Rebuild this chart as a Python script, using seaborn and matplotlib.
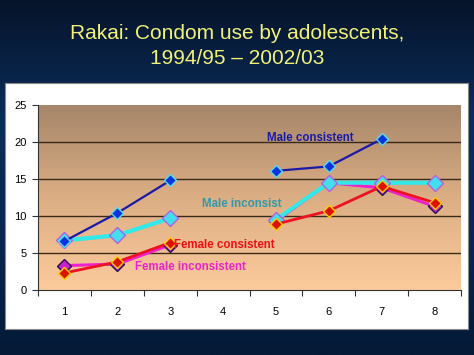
import numpy as np
import pandas as pd
import matplotlib
matplotlib.use("Agg")
import matplotlib.pyplot as plt
from matplotlib.colors import LinearSegmentedColormap
import seaborn as sns

# data (survey rounds 1..8, no data for round 4)
rounds = [1, 2, 3, 4, 5, 6, 7, 8]
male_consistent = [6.6, 10.4, 14.8, None, 16.1, 16.7, 20.4, None]
male_inconsist = [6.7, 7.4, 9.7, None, 9.5, 14.5, 14.5, 14.5]
female_consistent = [2.3, 3.8, 6.4, None, 8.9, 10.7, 14.0, 11.8]
female_inconsistent = [3.3, 3.5, 6.1, None, 9.3, 14.5, 13.8, 11.3]

series = {
    "Male consistent": male_consistent,
    "Male inconsist": male_inconsist,
    "Female inconsistent": female_inconsistent,
    "Female consistent": female_consistent,
}

rows = []
for name, vals in series.items():
    for i, v in enumerate(vals):
        if v is not None:
            rows.append({"series": name, "pos": i, "value": v,
                         "segment": 0 if i < 3 else 1})
df = pd.DataFrame(rows)

styles = {
    "Female inconsistent": dict(color="#ee22cc", lw=2.2, mfc="#cc22cc", mec="#221155", ms=7, z=3),
    "Male inconsist": dict(color="#33e8e8", lw=3.0, mfc="#44ddee", mec="#b060e0", ms=8.5, z=4),
    "Female consistent": dict(color="#ee1122", lw=2.0, mfc="#dd1100", mec="#ffcc00", ms=6.5, z=5),
    "Male consistent": dict(color="#1a1aa8", lw=1.6, mfc="#0a33dd", mec="#55ddee", ms=6.5, z=6),
}

fig = plt.figure(figsize=(4.74, 3.55), dpi=100)

# dark blue slide background
bg = fig.add_axes([0, 0, 1, 1], zorder=-10)
bg_cmap = LinearSegmentedColormap.from_list("bg", ["#06142b", "#0b2d5a", "#082650", "#041a36"])
bg.imshow(np.linspace(0, 1, 256).reshape(-1, 1), cmap=bg_cmap, aspect="auto", extent=[0, 1, 0, 1])
bg.set_axis_off()

# white chart box
box = fig.add_axes([5 / 474, (355 - 329) / 355, 463 / 474, 246 / 355], zorder=-5)
box.set_facecolor("white")
box.set_xticks([])
box.set_yticks([])
for s in box.spines.values():
    s.set_color("#888888")
    s.set_linewidth(0.8)

fig.text(0.5, 0.905, "Rakai: Condom use by adolescents,", ha="center", va="center",
         color="#f2f27a", fontsize=15, family="Liberation Sans")
fig.text(0.5, 0.835, "1994/95 \u2013 2002/03", ha="center", va="center",
         color="#f2f27a", fontsize=15, family="Liberation Sans")

ax = fig.add_axes([38 / 474, (355 - 290) / 355, 423 / 474, 185 / 355])
ax.patch.set_alpha(0)

# tan gradient plot area
area_cmap = LinearSegmentedColormap.from_list("area", ["#fccb9c", "#dcae84", "#a5866a"])
ax.imshow(np.linspace(0, 1, 256).reshape(-1, 1), cmap=area_cmap, origin="lower",
          aspect="auto", extent=[-0.5, 7.5, 0, 25], zorder=0)

for y in [5, 10, 15, 20]:
    ax.axhline(y, color="#3a2a1a", lw=1.0, zorder=1)

for name in ["Female inconsistent", "Male inconsist", "Female consistent", "Male consistent"]:
    st = styles[name]
    for seg in [0, 1]:
        sub = df[(df["series"] == name) & (df["segment"] == seg)]
        sns.lineplot(data=sub, x="pos", y="value", ax=ax, color=st["color"], lw=st["lw"],
                     marker="D", markersize=st["ms"], markerfacecolor=st["mfc"],
                     markeredgecolor=st["mec"], markeredgewidth=1.0, zorder=st["z"],
                     estimator=None, legend=False)

ax.set_xlim(-0.5, 7.5)
ax.set_ylim(0, 25)
ax.set_xticks(np.arange(-0.5, 8, 1))
ax.set_xticklabels([])
ax.set_xticks(range(len(rounds)), minor=True)
ax.set_xticklabels([str(r) for r in rounds], minor=True)
ax.tick_params(axis="x", which="minor", length=0, pad=12, labelsize=8)
ax.tick_params(axis="x", which="major", length=4, color="#333333", direction="out")
ax.set_yticks([0, 5, 10, 15, 20, 25])
ax.tick_params(axis="y", length=4, color="#333333", labelsize=8, pad=4)
for lab in ax.get_xticklabels(minor=True) + ax.get_yticklabels():
    lab.set_family("Liberation Sans")
ax.set_xlabel("")
ax.set_ylabel("")
for side in ["top", "right"]:
    ax.spines[side].set_visible(False)
ax.spines["left"].set_color("#333333")
ax.spines["bottom"].set_color("#333333")

labels = [
    ("Male consistent", 3.83, 20.6, "#1a1aa8"),
    ("Male inconsist", 2.6, 11.6, "#3399aa"),
    ("Female consistent", 2.08, 6.1, "#ee1111"),
    ("Female inconsistent", 1.33, 3.1, "#ee22cc"),
]
for text, x, y, c in labels:
    ax.text(x, y, text, color=c, fontsize=8.3, fontweight="bold", family="Liberation Sans",
            ha="left", va="center", zorder=8)

fig.savefig("out.png", dpi=100)
